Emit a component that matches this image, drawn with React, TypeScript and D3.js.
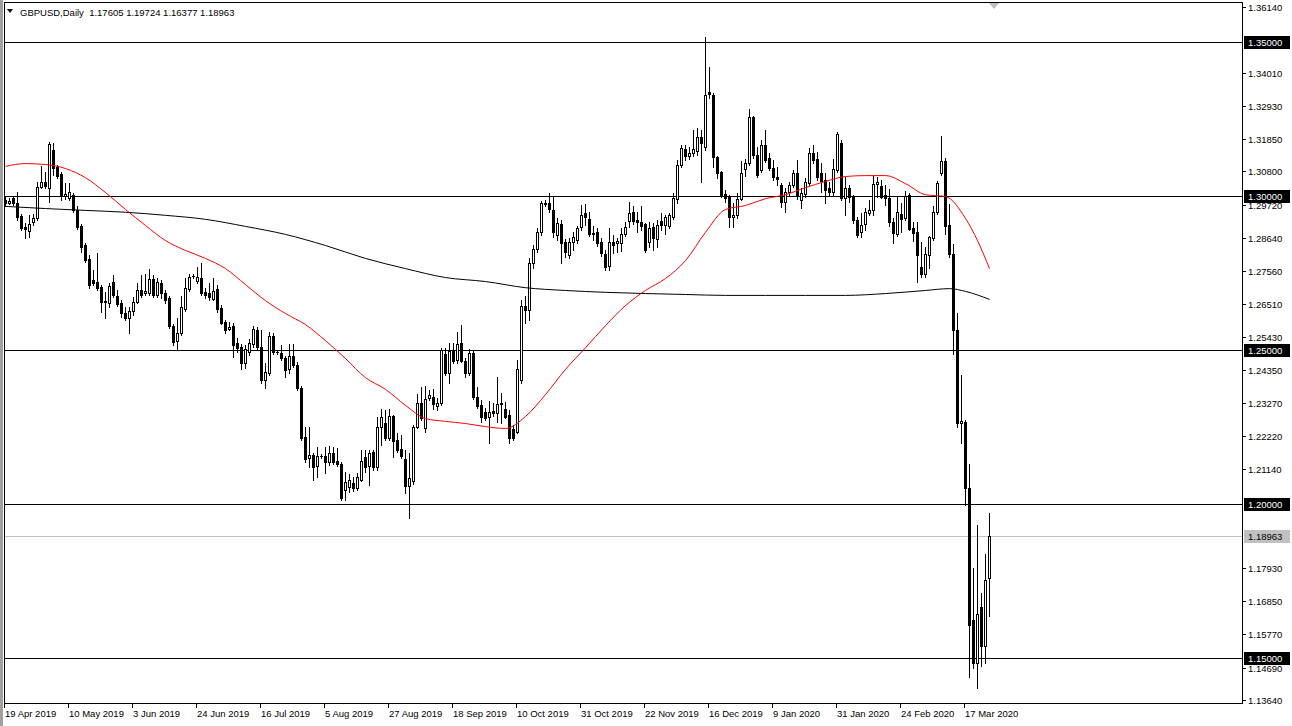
import React, { useEffect, useRef } from "react";
import * as d3 from "d3";

// GBPUSD daily, 19 Apr 2019 .. 25 Mar 2020
const symbol = "GBPUSD,Daily";

const opens = [
  1.2987, 1.2977, 1.2993, 1.2977, 1.2936, 1.2899, 1.2887, 1.2916, 1.2929, 1.3029,
  1.3046, 1.3026, 1.3149, 1.3094, 1.3071, 1.3000, 1.2993, 1.3003, 1.2955, 1.2903,
  1.2841, 1.2796, 1.2727, 1.2721, 1.2704, 1.2659, 1.2652, 1.2721, 1.2676, 1.2652,
  1.2620, 1.2604, 1.2627, 1.2656, 1.2695, 1.2685, 1.2685, 1.2731, 1.2679, 1.2717,
  1.2685, 1.2669, 1.2578, 1.2529, 1.2555, 1.2633, 1.2698, 1.2741, 1.2724, 1.2734,
  1.2689, 1.2685, 1.2666, 1.2698, 1.2636, 1.2591, 1.2568, 1.2578, 1.2522, 1.2509,
  1.2458, 1.2494, 1.2519, 1.2565, 1.2509, 1.2403, 1.2425, 1.2546, 1.2494, 1.2490,
  1.2474, 1.2439, 1.2481, 1.2452, 1.2377, 1.2217, 1.2149, 1.2159, 1.2124, 1.2156,
  1.2156, 1.2137, 1.2165, 1.2140, 1.2130, 1.2045, 1.2055, 1.2068, 1.2052, 1.2078,
  1.2152, 1.2124, 1.2169, 1.2120, 1.2250, 1.2263, 1.2214, 1.2286, 1.2208, 1.2179,
  1.2146, 1.2059, 1.2075, 1.2250, 1.2328, 1.2247, 1.2344, 1.2347, 1.2319, 1.2328,
  1.2487, 1.2425, 1.2497, 1.2468, 1.2522, 1.2465, 1.2425, 1.2490, 1.2347, 1.2322,
  1.2299, 1.2282, 1.2302, 1.2295, 1.2325, 1.2309, 1.2289, 1.2244, 1.2234, 1.2403,
  1.2643, 1.2630, 1.2782, 1.2828, 1.2884, 1.2977, 1.2977, 1.2955, 1.2874, 1.2909,
  1.2851, 1.2809, 1.2851, 1.2857, 1.2899, 1.2945, 1.2926, 1.2880, 1.2884, 1.2851,
  1.2812, 1.2773, 1.2851, 1.2847, 1.2847, 1.2877, 1.2919, 1.2949, 1.2922, 1.2916,
  1.2909, 1.2851, 1.2899, 1.2861, 1.2919, 1.2906, 1.2903, 1.2932, 1.2990, 1.3101,
  1.3153, 1.3130, 1.3139, 1.3146, 1.3191, 1.3159, 1.3338, 1.3328, 1.3126, 1.3078,
  1.3006, 1.3000, 1.2932, 1.2939, 1.2990, 1.3088, 1.3107, 1.3256, 1.3133, 1.3084,
  1.3166, 1.3123, 1.3091, 1.3061, 1.3036, 1.2981, 1.3013, 1.3036, 1.3074, 1.2987,
  1.3006, 1.3042, 1.3139, 1.3120, 1.3074, 1.3052, 1.3026, 1.3013, 1.3084, 1.3172,
  1.2993, 1.3026, 1.2996, 1.2922, 1.2884, 1.2909, 1.2945, 1.2955, 1.3039, 1.3033,
  1.3003, 1.2993, 1.2916, 1.2877, 1.2942, 1.2929, 1.3003, 1.2896, 1.2884, 1.2769,
  1.2747, 1.2809, 1.2864, 1.2949, 1.3074, 1.3114, 1.2906, 1.2812, 1.2565, 1.2263,
  1.2267, 1.2052, 1.1623, 1.1484, 1.1665, 1.1539, 1.17605,
];

const highs = [
  1.3000, 1.2993, 1.3000, 1.3013, 1.2942, 1.2912, 1.2939, 1.2942, 1.3046, 1.3098,
  1.3078, 1.3176, 1.3172, 1.3101, 1.3078, 1.3042, 1.3042, 1.3009, 1.2968, 1.2909,
  1.2847, 1.2809, 1.2760, 1.2815, 1.2711, 1.2689, 1.2717, 1.2744, 1.2695, 1.2662,
  1.2639, 1.2639, 1.2672, 1.2717, 1.2744, 1.2747, 1.2763, 1.2744, 1.2734, 1.2727,
  1.2695, 1.2676, 1.2584, 1.2604, 1.2676, 1.2734, 1.2747, 1.2747, 1.2769, 1.2782,
  1.2701, 1.2717, 1.2734, 1.2711, 1.2646, 1.2597, 1.2591, 1.2587, 1.2539, 1.2519,
  1.2516, 1.2536, 1.2578, 1.2574, 1.2565, 1.2458, 1.2559, 1.2555, 1.2500, 1.2516,
  1.2481, 1.2519, 1.2519, 1.2462, 1.2384, 1.2250, 1.2250, 1.2165, 1.2185, 1.2162,
  1.2185, 1.2189, 1.2185, 1.2182, 1.2137, 1.2104, 1.2097, 1.2088, 1.2100, 1.2175,
  1.2175, 1.2175, 1.2175, 1.2282, 1.2309, 1.2305, 1.2309, 1.2289, 1.2230, 1.2224,
  1.2175, 1.2165, 1.2257, 1.2357, 1.2380, 1.2384, 1.2370, 1.2374, 1.2344, 1.2506,
  1.2506, 1.2522, 1.2522, 1.2559, 1.2581, 1.2474, 1.2503, 1.2500, 1.2380, 1.2338,
  1.2312, 1.2335, 1.2328, 1.2412, 1.2360, 1.2332, 1.2305, 1.2257, 1.2468, 1.2662,
  1.2676, 1.2799, 1.2841, 1.2896, 1.2984, 1.2987, 1.3009, 1.3000, 1.2929, 1.2922,
  1.2861, 1.2864, 1.2884, 1.2903, 1.2971, 1.2974, 1.2949, 1.2903, 1.2896, 1.2864,
  1.2825, 1.2896, 1.2874, 1.2864, 1.2896, 1.2916, 1.2981, 1.2968, 1.2949, 1.2968,
  1.2912, 1.2916, 1.2912, 1.2922, 1.2945, 1.2939, 1.2945, 1.3009, 1.3117, 1.3166,
  1.3166, 1.3159, 1.3214, 1.3221, 1.3214, 1.3516, 1.3419, 1.3334, 1.3130, 1.3081,
  1.3019, 1.3003, 1.2977, 1.3009, 1.3114, 1.3120, 1.3283, 1.3260, 1.3159, 1.3182,
  1.3214, 1.3139, 1.3117, 1.3094, 1.3042, 1.3026, 1.3046, 1.3084, 1.3117, 1.3026,
  1.3058, 1.3156, 1.3166, 1.3143, 1.3107, 1.3074, 1.3046, 1.3120, 1.3208, 1.3182,
  1.3061, 1.3036, 1.3003, 1.2932, 1.2945, 1.2961, 1.2987, 1.3065, 1.3061, 1.3052,
  1.3036, 1.3023, 1.2929, 1.2996, 1.2977, 1.3016, 1.3009, 1.2916, 1.2916, 1.2851,
  1.2834, 1.2871, 1.2968, 1.3049, 1.3195, 1.3123, 1.2974, 1.2844, 1.2620, 1.2419,
  1.2273, 1.2130, 1.1792, 1.1932, 1.1711, 1.1838, 1.19724,
];

const lows = [
  1.2968, 1.2974, 1.2971, 1.2922, 1.2890, 1.2864, 1.2867, 1.2906, 1.2922, 1.3026,
  1.3026, 1.2981, 1.3068, 1.3058, 1.2987, 1.2990, 1.2987, 1.2949, 1.2893, 1.2819,
  1.2786, 1.2701, 1.2711, 1.2695, 1.2624, 1.2604, 1.2639, 1.2672, 1.2643, 1.2607,
  1.2597, 1.2555, 1.2614, 1.2652, 1.2672, 1.2679, 1.2679, 1.2672, 1.2672, 1.2669,
  1.2652, 1.2571, 1.2516, 1.2500, 1.2549, 1.2627, 1.2692, 1.2734, 1.2717, 1.2679,
  1.2669, 1.2662, 1.2662, 1.2624, 1.2584, 1.2555, 1.2565, 1.2477, 1.2494, 1.2439,
  1.2442, 1.2484, 1.2509, 1.2500, 1.2393, 1.2377, 1.2419, 1.2487, 1.2487, 1.2468,
  1.2412, 1.2425, 1.2445, 1.2370, 1.2208, 1.2137, 1.2120, 1.2078, 1.2087, 1.2149,
  1.2100, 1.2127, 1.2130, 1.2124, 1.2013, 1.2013, 1.2039, 1.2042, 1.2045, 1.2075,
  1.2104, 1.2062, 1.2110, 1.2110, 1.2192, 1.2208, 1.2208, 1.2152, 1.2169, 1.2149,
  1.2035, 1.1955, 1.2065, 1.2247, 1.2273, 1.2234, 1.2338, 1.2309, 1.2305, 1.2322,
  1.2419, 1.2393, 1.2458, 1.2458, 1.2462, 1.2412, 1.2419, 1.2341, 1.2312, 1.2267,
  1.2273, 1.2198, 1.2286, 1.2267, 1.2263, 1.2279, 1.2198, 1.2208, 1.2230, 1.2393,
  1.2587, 1.2597, 1.2766, 1.2819, 1.2874, 1.2968, 1.2949, 1.2867, 1.2857, 1.2782,
  1.2802, 1.2799, 1.2825, 1.2847, 1.2890, 1.2906, 1.2871, 1.2857, 1.2838, 1.2806,
  1.2760, 1.2760, 1.2815, 1.2819, 1.2822, 1.2871, 1.2899, 1.2909, 1.2884, 1.2890,
  1.2819, 1.2834, 1.2825, 1.2834, 1.2890, 1.2877, 1.2896, 1.2926, 1.2977, 1.3094,
  1.3117, 1.3120, 1.3130, 1.3133, 1.3046, 1.3149, 1.3318, 1.3094, 1.3058, 1.2996,
  1.2981, 1.2899, 1.2899, 1.2929, 1.2987, 1.3065, 1.3101, 1.3123, 1.3061, 1.3078,
  1.3111, 1.3084, 1.3052, 1.3036, 1.2964, 1.2949, 1.3003, 1.3029, 1.2990, 1.2961,
  1.2996, 1.3036, 1.3107, 1.3052, 1.3013, 1.2977, 1.3003, 1.3003, 1.3078, 1.2987,
  1.2939, 1.2981, 1.2912, 1.2867, 1.2867, 1.2890, 1.2939, 1.2939, 1.2996, 1.2993,
  1.2971, 1.2903, 1.2847, 1.2871, 1.2884, 1.2922, 1.2890, 1.2854, 1.2721, 1.2737,
  1.2737, 1.2766, 1.2857, 1.2942, 1.3068, 1.2877, 1.2802, 1.2487, 1.2250, 1.2198,
  1.1997, 1.1438, 1.1468, 1.1403, 1.1475, 1.1484, 1.16377,
];

const closes = [
  1.2977, 1.2984, 1.2977, 1.2932, 1.2896, 1.2893, 1.2909, 1.2929, 1.3029, 1.3046,
  1.3033, 1.3169, 1.3091, 1.3065, 1.3000, 1.3006, 1.3013, 1.2955, 1.2899, 1.2834,
  1.2792, 1.2711, 1.2717, 1.2701, 1.2656, 1.2656, 1.2708, 1.2679, 1.2649, 1.2620,
  1.2604, 1.2627, 1.2656, 1.2695, 1.2679, 1.2692, 1.2731, 1.2679, 1.2721, 1.2685,
  1.2662, 1.2578, 1.2526, 1.2555, 1.2639, 1.2701, 1.2737, 1.2740, 1.2737, 1.2685,
  1.2679, 1.2672, 1.2692, 1.2633, 1.2587, 1.2565, 1.2574, 1.2516, 1.2506, 1.2458,
  1.2503, 1.2522, 1.2568, 1.2509, 1.2403, 1.2429, 1.2546, 1.2494, 1.2493, 1.2474,
  1.2435, 1.2481, 1.2452, 1.2377, 1.2214, 1.2146, 1.2159, 1.2120, 1.2156, 1.2155,
  1.2137, 1.2165, 1.2137, 1.2130, 1.2019, 1.2072, 1.2078, 1.2052, 1.2088, 1.2140,
  1.2120, 1.2165, 1.2120, 1.2250, 1.2282, 1.2214, 1.2286, 1.2205, 1.2175, 1.2156,
  1.2059, 1.2084, 1.2250, 1.2328, 1.2279, 1.2341, 1.2354, 1.2325, 1.2328, 1.2500,
  1.2425, 1.2497, 1.2465, 1.2519, 1.2465, 1.2425, 1.2490, 1.2347, 1.2319, 1.2282,
  1.2279, 1.2299, 1.2295, 1.2325, 1.2328, 1.2282, 1.2214, 1.2214, 1.2439, 1.2643,
  1.2630, 1.2782, 1.2828, 1.2884, 1.2977, 1.2975, 1.2958, 1.2884, 1.2912, 1.2847,
  1.2819, 1.2851, 1.2867, 1.2896, 1.2939, 1.2932, 1.2877, 1.2878, 1.2847, 1.2815,
  1.2769, 1.2851, 1.2841, 1.2854, 1.2877, 1.2899, 1.2945, 1.2919, 1.2916, 1.2903,
  1.2825, 1.2896, 1.2864, 1.2906, 1.2906, 1.2932, 1.2939, 1.2993, 1.3101, 1.3156,
  1.3130, 1.3139, 1.3153, 1.3191, 1.3172, 1.3328, 1.3331, 1.3126, 1.3074, 1.3000,
  1.2993, 1.2932, 1.2939, 1.2990, 1.3074, 1.3107, 1.3256, 1.3133, 1.3068, 1.3166,
  1.3117, 1.3091, 1.3061, 1.3055, 1.2981, 1.3013, 1.3036, 1.3074, 1.3000, 1.3009,
  1.3046, 1.3139, 1.3117, 1.3061, 1.3049, 1.3019, 1.3013, 1.3088, 1.3201, 1.2993,
  1.3026, 1.2996, 1.2922, 1.2874, 1.2906, 1.2949, 1.2955, 1.3039, 1.3046, 1.2996,
  1.2993, 1.2916, 1.2880, 1.2949, 1.2926, 1.3000, 1.2893, 1.2880, 1.2809, 1.2747,
  1.2812, 1.2867, 1.2949, 1.3042, 1.3114, 1.2903, 1.2812, 1.2565, 1.2263, 1.2270,
  1.2052, 1.1607, 1.1484, 1.1643, 1.1539, 1.1753, 1.18963,
];

// moving averages, sampled at these bars
const maFastBars = [
  0, 5, 10, 15, 20, 25, 30, 35, 40, 45, 50, 55, 60, 65, 70, 75, 80, 85, 90, 95,
  100, 105, 110, 115, 120, 125, 130, 135, 140, 145, 150, 155, 160, 165, 170, 175,
  180, 185, 190, 195, 200, 205, 210, 215, 220, 225, 230, 235, 240, 243, 246,
];
const maFast = [
  1.3098, 1.3107, 1.3104, 1.3091, 1.3061, 1.3013, 1.2958, 1.2906, 1.2857, 1.2825,
  1.2799, 1.2766, 1.2714, 1.2662, 1.2620, 1.2584, 1.2532, 1.2474, 1.2412, 1.2374,
  1.2322, 1.2279, 1.2270, 1.2263, 1.2253, 1.2247, 1.2286, 1.2357, 1.2439, 1.2509,
  1.2581, 1.2646, 1.2695, 1.2734, 1.2792, 1.2884, 1.2958, 1.2971, 1.2993, 1.3006,
  1.3029, 1.3049, 1.3065, 1.3068, 1.3068, 1.3042, 1.3006, 1.3000, 1.2929, 1.2857,
  1.2766,
];

const maSlowBars = [
  0, 10, 20, 30, 40, 50, 60, 70, 80, 90, 100, 110, 120, 130, 140, 150, 160, 170,
  180, 190, 200, 210, 220, 230, 236, 240, 246,
];
const maSlow = [
  1.2968, 1.2961, 1.2955, 1.2949, 1.2939, 1.2926, 1.2903, 1.2877, 1.2841, 1.2799,
  1.2766, 1.2737, 1.2724, 1.2704, 1.2695, 1.2689, 1.2685, 1.2682, 1.2679, 1.2679,
  1.2679, 1.2679, 1.2685, 1.2695, 1.2701, 1.2692, 1.2666,
];

const dateLabels = [
  "19 Apr 2019", "10 May 2019", "3 Jun 2019", "24 Jun 2019", "16 Jul 2019",
  "5 Aug 2019", "27 Aug 2019", "18 Sep 2019", "10 Oct 2019", "31 Oct 2019",
  "22 Nov 2019", "16 Dec 2019", "9 Jan 2020", "31 Jan 2020", "24 Feb 2020",
  "17 Mar 2020",
];
const dateBars = [0, 16, 32, 48, 64, 80, 96, 112, 128, 144, 160, 176, 192, 208, 224, 240];

const priceTicks = [
  1.3614, 1.3401, 1.3293, 1.3185, 1.308, 1.2972, 1.2864, 1.2756, 1.2651, 1.2543,
  1.2435, 1.2327, 1.2222, 1.2114, 1.1793, 1.1685, 1.1577, 1.1469, 1.1364,
];
const levels = [1.35, 1.3, 1.25, 1.2, 1.15];
const lastPrice = 1.18963;

const W = 1292;
const H = 726;
const plot = { left: 4, top: 2, right: 1242, bottom: 703 };
const FONT = "'Liberation Sans', Arial, sans-serif";
const FS = 9.5;

export default function App() {
  const svgRef = useRef<SVGSVGElement>(null);

  useEffect(() => {
    document.body.style.margin = "0";
    const svg = d3.select(svgRef.current);
    svg.selectAll("*").remove();

    const n = closes.length;
    // 4px per bar, bar i occupies columns left..left+2
    const x = d3.scaleLinear().domain([0, n - 1]).range([plot.left, plot.left + 4 * (n - 1)]);
    const y = d3.scaleLinear().domain([1.1354, 1.363]).range([plot.bottom, plot.top]);
    const py = (v: number) => Math.round(y(v));

    svg.append("rect").attr("width", W).attr("height", H).attr("fill", "#fff");

    // left gutter
    svg.append("rect").attr("x", 0).attr("y", 0).attr("width", 3).attr("height", H).attr("fill", "#a0a0a0");

    // horizontal level lines
    svg
      .append("g")
      .selectAll("line")
      .data(levels)
      .join("line")
      .attr("x1", plot.left)
      .attr("x2", plot.right)
      .attr("y1", (d) => py(d) + 0.5)
      .attr("y2", (d) => py(d) + 0.5)
      .attr("stroke", "#000");

    // bid line
    svg
      .append("line")
      .attr("x1", plot.left)
      .attr("x2", plot.right)
      .attr("y1", py(lastPrice) + 0.5)
      .attr("y2", py(lastPrice) + 0.5)
      .attr("stroke", "#c0c0c0");

    // candles
    const idx = d3.range(n);
    const candles = svg.append("g").attr("shape-rendering", "crispEdges");

    candles
      .selectAll("line.wick")
      .data(idx)
      .join("line")
      .attr("class", "wick")
      .attr("x1", (i) => Math.round(x(i)) + 1.5)
      .attr("x2", (i) => Math.round(x(i)) + 1.5)
      .attr("y1", (i) => py(highs[i]))
      .attr("y2", (i) => py(lows[i]) + 1)
      .attr("stroke", "#000");

    candles
      .selectAll("rect.body")
      .data(idx.filter((i) => py(opens[i]) !== py(closes[i])))
      .join("rect")
      .attr("class", "body")
      .attr("x", (i) => Math.round(x(i)) + 0.5)
      .attr("y", (i) => Math.min(py(opens[i]), py(closes[i])) + 0.5)
      .attr("width", 2)
      .attr("height", (i) => Math.abs(py(opens[i]) - py(closes[i])))
      .attr("fill", (i) => (closes[i] >= opens[i] ? "#fff" : "#000"))
      .attr("stroke", "#000");

    candles
      .selectAll("line.doji")
      .data(idx.filter((i) => py(opens[i]) === py(closes[i])))
      .join("line")
      .attr("class", "doji")
      .attr("x1", (i) => Math.round(x(i)))
      .attr("x2", (i) => Math.round(x(i)) + 3)
      .attr("y1", (i) => py(closes[i]) + 0.5)
      .attr("y2", (i) => py(closes[i]) + 0.5)
      .attr("stroke", "#000");

    // moving averages
    const maLine = (bars: number[], vals: number[], color: string) => {
      const line = d3
        .line<number>()
        .x((_, k) => x(bars[k]) + 1.5)
        .y((v) => y(v) + 0.5)
        .curve(d3.curveMonotoneX);
      svg
        .append("path")
        .attr("d", line(vals))
        .attr("fill", "none")
        .attr("stroke", color)
        .attr("stroke-width", 1);
    };
    maLine(maSlowBars, maSlow, "#000");
    maLine(maFastBars, maFast, "#ff0000");

    // frame
    svg
      .append("rect")
      .attr("x", plot.left + 0.5)
      .attr("y", plot.top + 0.5)
      .attr("width", plot.right - plot.left)
      .attr("height", plot.bottom - plot.top)
      .attr("fill", "none")
      .attr("stroke", "#000")
      .attr("shape-rendering", "crispEdges");

    // price scale
    const axisR = svg.append("g").attr("font-family", FONT).attr("font-size", FS);
    axisR
      .selectAll("line")
      .data(priceTicks)
      .join("line")
      .attr("x1", plot.right)
      .attr("x2", plot.right + 4)
      .attr("y1", (d) => py(d) + 0.5)
      .attr("y2", (d) => py(d) + 0.5)
      .attr("stroke", "#000");
    axisR
      .selectAll("text")
      .data(priceTicks)
      .join("text")
      .attr("x", plot.right + 6)
      .attr("y", (d) => py(d) + 4)
      .attr("fill", "#000")
      .text((d) => d.toFixed(5));

    const boxed = axisR.append("g");
    levels.forEach((v) => {
      boxed
        .append("rect")
        .attr("x", plot.right + 2)
        .attr("y", py(v) - 6)
        .attr("width", 46)
        .attr("height", 13)
        .attr("fill", "#000");
      boxed
        .append("text")
        .attr("x", plot.right + 6)
        .attr("y", py(v) + 4)
        .attr("fill", "#fff")
        .text(v.toFixed(5));
    });
    boxed
      .append("rect")
      .attr("x", plot.right + 2)
      .attr("y", py(lastPrice) - 6)
      .attr("width", 46)
      .attr("height", 13)
      .attr("fill", "#c0c0c0");
    boxed
      .append("text")
      .attr("x", plot.right + 6)
      .attr("y", py(lastPrice) + 4)
      .attr("fill", "#000")
      .text(lastPrice.toFixed(5));

    // time scale
    const axisB = svg.append("g").attr("font-family", FONT).attr("font-size", FS);
    axisB
      .selectAll("line")
      .data(dateBars)
      .join("line")
      .attr("x1", (b) => Math.round(x(b)) + 0.5)
      .attr("x2", (b) => Math.round(x(b)) + 0.5)
      .attr("y1", plot.bottom)
      .attr("y2", plot.bottom + 5)
      .attr("stroke", "#000");
    axisB
      .selectAll("text")
      .data(dateBars)
      .join("text")
      .attr("x", (b) => Math.round(x(b)) + 1)
      .attr("y", plot.bottom + 14)
      .attr("fill", "#000")
      .text((_, k) => dateLabels[k]);

    // header
    svg
      .append("path")
      .attr("d", "M7,9 L13,9 L10,13 Z")
      .attr("fill", "#000");
    svg
      .append("text")
      .attr("x", 20)
      .attr("y", 16)
      .attr("font-family", FONT)
      .attr("font-size", FS)
      .attr("fill", "#000")
      .attr("xml:space", "preserve")
      .text(`${symbol}  ${opens[n - 1].toFixed(5)} ${highs[n - 1].toFixed(5)} ${lows[n - 1].toFixed(5)} ${closes[n - 1].toFixed(5)}`);

    // chart shift marker
    svg
      .append("path")
      .attr("d", "M989,3 L999,3 L994,9 Z")
      .attr("fill", "#c0c0c0");
  }, []);

  return (
    <svg
      ref={svgRef}
      width={W}
      height={H}
      style={{ position: "absolute", left: 0, top: 0, display: "block" }}
    />
  );
}
